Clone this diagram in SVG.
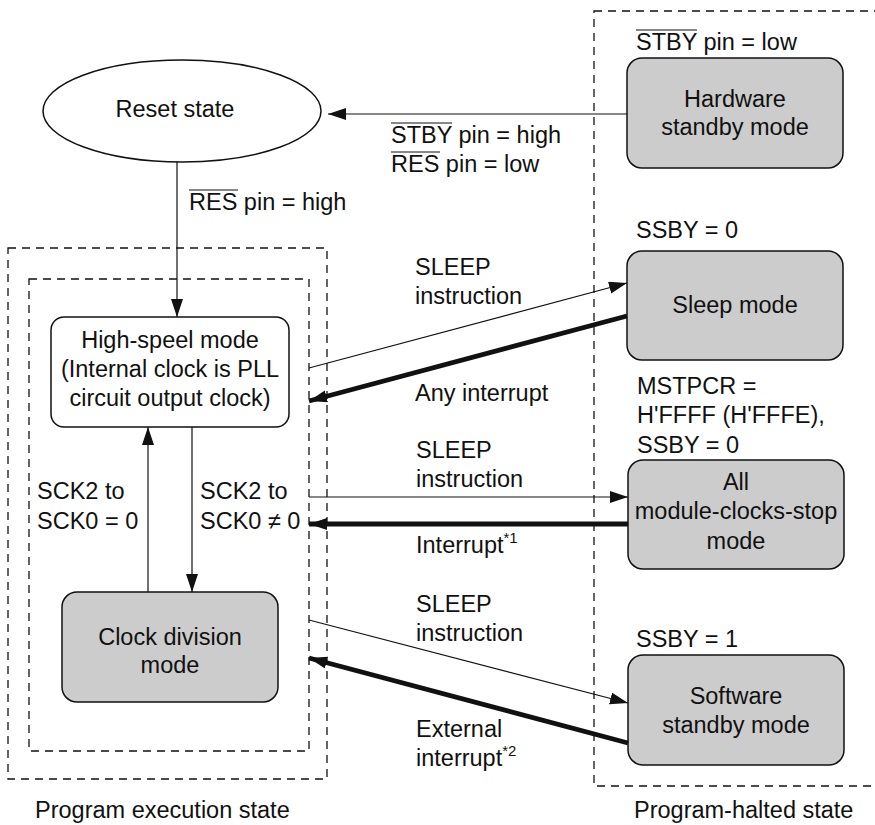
<svg xmlns="http://www.w3.org/2000/svg" width="875" height="825" viewBox="0 0 875 825">
<style>
text{font-family:"Liberation Sans",Arial,sans-serif;font-size:23.5px;fill:#111}
.c{text-anchor:middle}
.sup{font-size:15px}
.box{fill:#cccccc;stroke:#111;stroke-width:1.5}
.wbox{fill:#fff;stroke:#111;stroke-width:1.5}
.dash{fill:none;stroke:#111;stroke-width:1.3;stroke-dasharray:8 6}
.thin{stroke:#111;stroke-width:1.2;fill:none}
.thick{stroke:#111;stroke-width:4.8;fill:none}
.ov{stroke:#111;stroke-width:1.2}
</style>
<defs>
<marker id="ah" markerUnits="userSpaceOnUse" markerWidth="20" markerHeight="14" refX="18" refY="6" orient="auto">
<path d="M0,0 L18,6 L0,12 Z" fill="#111"/>
</marker>
<marker id="ahk" markerUnits="userSpaceOnUse" markerWidth="20" markerHeight="14" refX="18" refY="6" orient="auto">
<path d="M0,0 L18,6 L0,12 Z" fill="#111"/>
</marker>
</defs>

<g id="regions">
<rect class="dash" x="8" y="248" width="319" height="531"/>
<rect class="dash" x="29" y="279" width="280" height="472"/>
<rect class="dash" x="594" y="11" width="290" height="775"/>
<text x="35" y="818">Program execution state</text>
<text x="634" y="818">Program-halted state</text>
</g>

<g id="reset">
<ellipse cx="182" cy="111" rx="139" ry="51" fill="#fff" stroke="#111" stroke-width="1.5"/>
<text class="c" x="175" y="117">Reset state</text>
</g>

<g id="hardware-standby">
<rect class="box" x="627" y="58" width="216" height="110" rx="15"/>
<text class="c" x="735" y="107">Hardware</text>
<text class="c" x="735" y="135">standby mode</text>
</g>

<g id="high-speed">
<rect class="wbox" x="51" y="317" width="238" height="110" rx="13"/>
<text class="c" x="170" y="348">High-speel mode</text>
<text class="c" x="170" y="377">(Internal clock is PLL</text>
<text class="c" x="170" y="406">circuit output clock)</text>
</g>

<g id="clock-division">
<rect class="box" x="62" y="592" width="216" height="110" rx="15"/>
<text class="c" x="170" y="645">Clock division</text>
<text class="c" x="170" y="673">mode</text>
</g>

<g id="sleep">
<rect class="box" x="627" y="251" width="216" height="109" rx="15"/>
<text class="c" x="735" y="313">Sleep mode</text>
</g>

<g id="all-module-clocks-stop">
<rect class="box" x="628" y="460" width="216" height="109" rx="15"/>
<text class="c" x="736" y="490">All</text>
<text class="c" x="736" y="519">module-clocks-stop</text>
<text class="c" x="736" y="549">mode</text>
</g>

<g id="software-standby">
<rect class="box" x="628" y="655" width="216" height="110" rx="15"/>
<text class="c" x="736" y="704">Software</text>
<text class="c" x="736" y="733">standby mode</text>
</g>

<g id="connectors">
<line class="thin" x1="627" y1="114" x2="328" y2="114" marker-end="url(#ah)"/>
<line class="thin" x1="177" y1="162" x2="177" y2="317" marker-end="url(#ah)"/>
<line class="thin" x1="309" y1="368" x2="627" y2="283" marker-end="url(#ah)"/>
<line class="thick" x1="627" y1="316" x2="309" y2="401" marker-end="url(#ahk)"/>
<line class="thin" x1="309" y1="497" x2="628" y2="497" marker-end="url(#ah)"/>
<line class="thick" x1="628" y1="524" x2="309" y2="524" marker-end="url(#ahk)"/>
<line class="thin" x1="192" y1="427" x2="192" y2="592" marker-end="url(#ah)"/>
<line class="thin" x1="148" y1="592" x2="148" y2="427" marker-end="url(#ah)"/>
<line class="thin" x1="309" y1="620" x2="628" y2="703" marker-end="url(#ah)"/>
<line class="thick" x1="628" y1="743" x2="309" y2="658" marker-end="url(#ahk)"/>
</g>

<g id="labels">
<text x="636" y="50">STBY pin = low</text>
<line class="ov" x1="636" y1="30" x2="697" y2="30"/>
<text x="391" y="143">STBY pin = high</text>
<line class="ov" x1="391" y1="123" x2="452" y2="123"/>
<text x="391" y="172">RES pin = low</text>
<line class="ov" x1="391" y1="152" x2="440" y2="152"/>
<text x="189" y="210">RES pin = high</text>
<line class="ov" x1="189" y1="190" x2="238" y2="190"/>
<text x="636" y="238">SSBY = 0</text>
<text x="415" y="275">SLEEP</text>
<text x="415" y="304">instruction</text>
<text x="415" y="401">Any interrupt</text>
<text x="637" y="394">MSTPCR =</text>
<text x="637" y="423">H'FFFF (H'FFFE),</text>
<text x="637" y="453">SSBY = 0</text>
<text x="416" y="458">SLEEP</text>
<text x="416" y="487">instruction</text>
<text x="416" y="553">Interrupt<tspan class="sup" dy="-10">*1</tspan></text>
<text x="37" y="499">SCK2 to</text>
<text x="37" y="529">SCK0 = 0</text>
<text x="200" y="499">SCK2 to</text>
<text x="200" y="529">SCK0 ≠ 0</text>
<text x="416" y="612">SLEEP</text>
<text x="416" y="641">instruction</text>
<text x="636" y="647">SSBY = 1</text>
<text x="416" y="737">External</text>
<text x="416" y="766">interrupt<tspan class="sup" dy="-10">*2</tspan></text>
</g>
</svg>
